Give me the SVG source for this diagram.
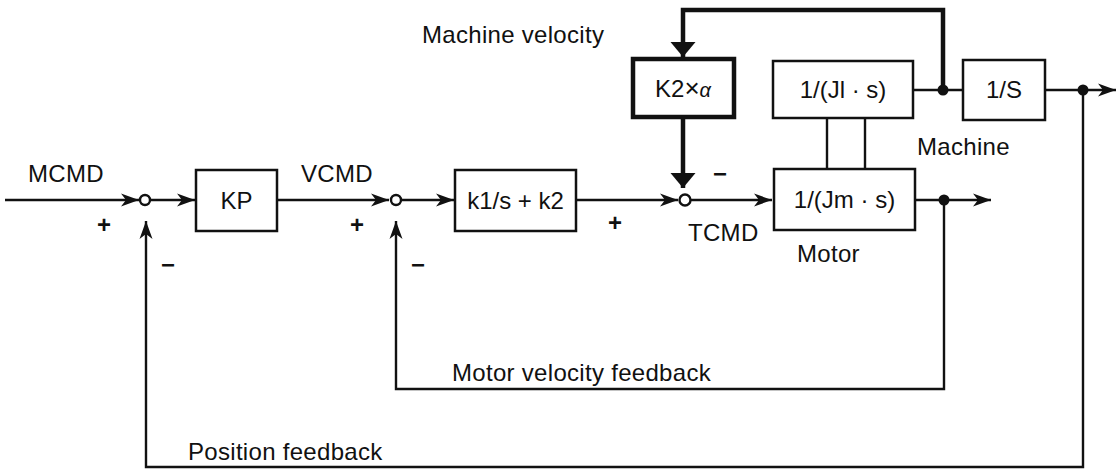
<svg xmlns="http://www.w3.org/2000/svg" width="1120" height="470" viewBox="0 0 1120 470">
<style>
text{font-family:"Liberation Sans",Arial,sans-serif;fill:#111}
.lbl{font-size:24px;letter-spacing:0.3px}
.sg{font-size:24px;text-anchor:middle;font-weight:bold}
.box{fill:#fff;stroke:#111;stroke-width:2.5}
.thk{fill:#fff;stroke:#111;stroke-width:4.5}
.bt{font-size:24px;text-anchor:middle}
.ln{fill:none;stroke:#111;stroke-width:2.4}
.lnt{fill:none;stroke:#111;stroke-width:4.5}
.sum{fill:#fff;stroke:#111;stroke-width:2.4}
</style>
<defs>
<marker id="a" markerUnits="userSpaceOnUse" markerWidth="19" markerHeight="15" refX="18" refY="7.5" orient="auto">
<path d="M0,1 L18,7.5 L0,14 L5,7.5 Z" fill="#111"/>
</marker>
<marker id="at" markerUnits="userSpaceOnUse" markerWidth="16" markerHeight="26" refX="15" refY="13" orient="auto">
<path d="M0,0.5 L15,13 L0,25.5 Z" fill="#111"/>
</marker>
</defs>
<g id="connectors">
<line class="ln" x1="5" y1="200" x2="139" y2="200" marker-end="url(#a)"/>
<line class="ln" x1="151" y1="200" x2="195" y2="200" marker-end="url(#a)"/>
<line class="ln" x1="277" y1="200" x2="389" y2="200" marker-end="url(#a)"/>
<line class="ln" x1="402" y1="200" x2="454" y2="200" marker-end="url(#a)"/>
<line class="ln" x1="576" y1="200" x2="678" y2="200" marker-end="url(#a)"/>
<line class="ln" x1="691" y1="200" x2="772" y2="200" marker-end="url(#a)"/>
<line class="ln" x1="915" y1="200" x2="991" y2="200" marker-end="url(#a)"/>
<line class="ln" x1="913" y1="90" x2="963" y2="90"/>
<line class="ln" x1="1045" y1="90" x2="1116" y2="90" marker-end="url(#a)"/>
<line class="ln" x1="827" y1="118" x2="827" y2="170"/>
<line class="ln" x1="865" y1="118" x2="865" y2="170"/>
<polyline class="ln" points="944,200 944,389 396,389 396,221" marker-end="url(#a)"/>
<polyline class="ln" points="1083,90 1083,467 146,467 146,221" marker-end="url(#a)"/>
<polyline class="lnt" points="943,90 943,10 683,10 683,57" marker-end="url(#at)"/>
<line class="lnt" x1="683" y1="117" x2="683" y2="188" marker-end="url(#at)"/>
<circle class="sum" cx="145" cy="200" r="5"/>
<circle class="sum" cx="396" cy="200" r="5"/>
<circle class="sum" cx="685" cy="200" r="5.5"/>
<circle cx="944" cy="200" r="5.5" fill="#111"/>
<circle cx="943" cy="90" r="5.5" fill="#111"/>
<circle cx="1083" cy="90" r="5.5" fill="#111"/>
</g>
<g id="node-kp"><rect class="box" x="196" y="170" width="81" height="61"/><text class="bt" x="236.5" y="209">KP</text></g>
<g id="node-pi"><rect class="box" x="455" y="170" width="121" height="61"/><text class="bt" x="515.5" y="209">k1/s + k2</text></g>
<g id="node-k2"><rect class="thk" x="633" y="59" width="101" height="58"/><text class="bt" x="683" y="97">K2<tspan font-size="26">×</tspan><tspan font-style="italic" font-size="20">α</tspan></text></g>
<g id="node-jl"><rect class="box" x="773" y="61" width="140" height="57"/><text class="bt" x="843" y="98">1/(Jl · s)</text></g>
<g id="node-s"><rect class="box" x="963" y="60" width="82" height="60"/><text class="bt" x="1004" y="98">1/S</text></g>
<g id="node-jm"><rect class="box" x="774" y="169" width="141" height="61"/><text class="bt" x="844.5" y="208">1/(Jm · s)</text></g>
<g id="labels">
<text class="lbl" x="28" y="182">MCMD</text>
<text class="lbl" x="301" y="182">VCMD</text>
<text class="lbl" x="688" y="241">TCMD</text>
<text class="lbl" x="797" y="262">Motor</text>
<text class="lbl" x="917" y="155">Machine</text>
<text class="lbl" x="422" y="43">Machine velocity</text>
<text class="lbl" x="452" y="381">Motor velocity feedback</text>
<text class="lbl" x="188" y="460">Position feedback</text>
<text class="sg" x="104" y="233">+</text>
<text class="sg" x="357" y="233">+</text>
<text class="sg" x="615" y="231">+</text>
<text class="sg" x="168" y="273">−</text>
<text class="sg" x="418" y="273">−</text>
<text class="sg" x="720" y="182">−</text>
</g>
</svg>
